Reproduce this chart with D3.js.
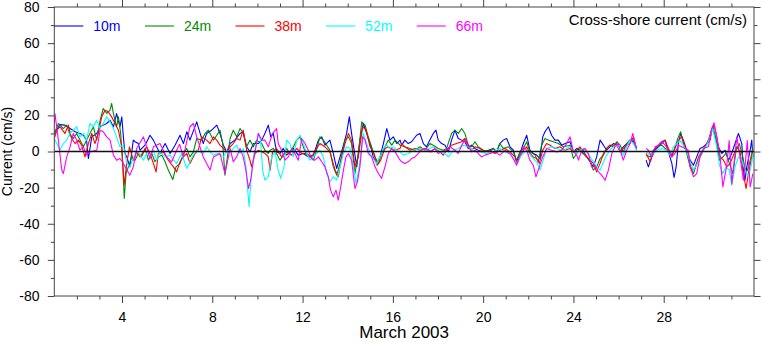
<!DOCTYPE html>
<html>
<head>
<meta charset="utf-8">
<script src="https://cdn.jsdelivr.net/npm/d3@7"></script>
<style>
  html, body { margin: 0; padding: 0; background: #fff; }
  svg { display: block; font-family: "Liberation Sans", Arial, Helvetica, sans-serif; }
</style>
</head>
<body>
<svg id="chart" width="762" height="342"></svg>
<script>
// ---------------- DATA ----------------
// time in days of March 2003 (day 1 = 1 March 00:00), value in cm/s; null = data gap
const seriesNames = ["10m", "24m", "38m", "52m", "66m"];
const seriesColors = ["#0000ff", "#008c00", "#ff0000", "#00ffff", "#ff00ff"];
const xMajorTicks = [4, 8, 12, 16, 20, 24, 28];
const yMajorTicks = [-80, -60, -40, -20, 0, 20, 40, 60, 80];
const xLabel = "March 2003";
const yLabel = "Current (cm/s)";
const title = "Cross-shore current (cm/s)";

const s10m = [[1.0,10.0],[1.25,14.9],[1.47,14.6],[1.70,12.7],[1.92,10.9],[2.14,10.0],[2.29,9.0],[2.43,6.3],[2.51,-3.9],[2.66,8.1],[2.88,10.0],[3.03,13.7],[3.17,14.6],[3.32,15.5],[3.47,17.3],[3.62,13.7],[3.76,21.0],[3.91,13.7],[3.99,19.2],[4.06,8.1],[4.13,-1.1],[4.21,-3.0],[4.35,-8.5],[4.50,6.3],[4.58,5.4],[4.72,4.4],[4.80,0.7],[5.02,3.5],[5.24,9.0],[5.39,6.3],[5.68,-1.1],[5.91,4.4],[6.13,-1.1],[6.35,3.5],[6.57,9.0],[6.72,4.4],[6.87,10.9],[7.01,6.3],[7.31,16.4],[7.46,10.0],[7.60,4.4],[7.75,10.0],[7.97,11.8],[8.20,14.6],[8.34,10.0],[8.49,3.5],[8.64,-0.2],[8.79,4.4],[9.00,6.3],[9.23,10.0],[9.37,10.9],[9.52,2.6],[9.67,-0.2],[9.82,4.4],[10.04,4.4],[10.19,6.3],[10.33,10.0],[10.48,14.6],[10.59,8.1],[10.70,10.0],[10.85,-0.2],[11.00,-1.1],[11.15,1.7],[11.29,-2.0],[11.44,-0.2],[11.59,1.7],[11.81,-2.0],[12.03,-1.1],[12.25,-3.0],[12.48,-2.0],[12.70,6.3],[12.85,8.1],[12.99,3.5],[13.21,6.3],[13.36,-1.1],[13.51,-9.4],[13.66,-3.0],[13.81,3.5],[13.95,10.0],[14.07,19.2],[14.17,10.0],[14.32,-2.0],[14.40,-8.5],[14.54,6.3],[14.69,15.5],[14.84,10.0],[14.99,4.4],[15.13,-3.0],[15.28,-6.6],[15.43,-3.0],[15.58,4.4],[15.73,12.7],[15.87,6.3],[16.02,8.1],[16.17,4.4],[16.32,6.3],[16.39,3.5],[16.53,6.3],[16.68,4.4],[16.83,5.4],[17.05,9.0],[17.20,10.0],[17.35,4.4],[17.49,2.6],[17.64,6.3],[17.79,10.0],[17.91,11.8],[18.01,6.3],[18.16,4.4],[18.31,3.5],[18.46,-0.2],[18.60,6.3],[18.75,11.8],[18.90,7.2],[19.05,6.3],[19.19,5.4],[19.34,1.7],[19.49,3.5],[19.64,1.7],[19.78,0.7],[20.01,-0.2],[20.23,0.7],[20.45,1.7],[20.60,-0.2],[20.74,4.4],[20.89,6.3],[21.04,7.2],[21.19,2.6],[21.34,0.7],[21.48,-5.7],[21.63,-1.1],[21.78,4.4],[21.93,9.0],[22.07,0.7],[22.22,-1.1],[22.37,-2.0],[22.52,-3.9],[22.64,8.1],[22.74,10.9],[22.89,13.7],[23.03,9.0],[23.18,6.3],[23.33,6.3],[23.48,3.5],[23.63,4.4],[23.85,5.4],[24.00,-0.2],[24.15,1.7],[24.29,0.7],[24.44,-1.1],[24.59,-3.0],[24.74,-5.7],[24.88,-8.5],[25.03,-3.0],[25.18,6.3],[25.33,3.5],[25.47,0.7],[25.62,2.6],[25.77,4.4],[25.92,3.5],[26.07,-0.2],[26.21,2.6],[26.36,4.4],[26.51,6.3],[26.66,5.4],[26.80,1.7],[27.0,null],[27.22,-4.8],[27.32,-8.5],[27.47,-3.0],[27.62,0.7],[27.76,2.6],[27.91,4.4],[28.06,6.3],[28.21,-0.2],[28.36,-6.6],[28.46,-14.4],[28.55,-8.5],[28.65,4.4],[28.75,10.0],[28.87,6.3],[29.02,0.7],[29.17,-4.8],[29.32,-7.6],[29.46,-3.0],[29.61,1.7],[29.76,2.6],[29.91,4.4],[30.05,6.3],[30.17,13.7],[30.28,8.1],[30.42,2.6],[30.57,-1.1],[30.72,0.7],[30.87,-4.8],[31.01,-1.1],[31.16,4.4],[31.31,10.0],[31.46,4.4],[31.53,-10.3],[31.60,-15.9],[31.68,-8.5],[31.83,0.7],[31.90,6.3],[31.95,-3.0]];

const s24m = [[1.0,10.0],[1.18,15.5],[1.40,12.7],[1.55,14.6],[1.70,9.0],[1.84,7.2],[1.99,10.0],[2.14,6.3],[2.29,2.6],[2.43,6.3],[2.58,10.0],[2.73,13.7],[2.88,6.3],[3.03,17.3],[3.17,23.8],[3.32,21.0],[3.47,22.9],[3.54,26.6],[3.62,21.0],[3.76,13.7],[3.84,19.2],[3.94,10.0],[4.03,-6.6],[4.10,-26.0],[4.18,-12.2],[4.28,-8.5],[4.43,-3.0],[4.58,-4.8],[4.72,-1.1],[4.87,-3.0],[5.02,1.7],[5.17,-4.8],[5.32,-1.1],[5.46,-5.7],[5.61,-3.0],[5.76,-2.0],[5.91,-5.7],[6.05,-10.3],[6.25,-15.5],[6.39,-8.5],[6.57,-6.6],[6.72,-1.1],[6.87,1.7],[7.01,-3.0],[7.16,-0.2],[7.31,7.2],[7.53,6.3],[7.68,10.0],[7.83,11.8],[8.05,6.3],[8.20,9.0],[8.34,11.8],[8.46,4.4],[8.56,-13.1],[8.67,-3.0],[8.79,7.2],[8.93,11.8],[9.08,8.1],[9.23,12.7],[9.37,10.0],[9.52,2.6],[9.67,6.3],[9.82,2.6],[9.96,6.3],[10.19,4.4],[10.33,0.7],[10.48,-1.1],[10.56,0.7],[10.70,1.7],[10.85,-1.1],[11.00,-4.8],[11.15,-2.0],[11.29,1.7],[11.44,-1.1],[11.59,2.6],[11.74,6.3],[11.89,8.1],[12.03,2.6],[12.18,-2.0],[12.33,-3.0],[12.48,-4.8],[12.62,0.7],[12.77,8.1],[12.92,6.3],[13.07,3.5],[13.21,0.7],[13.36,-8.5],[13.51,-13.1],[13.66,-6.6],[13.88,6.3],[14.03,8.1],[14.17,4.4],[14.32,-12.2],[14.47,-1.1],[14.62,16.4],[14.77,14.6],[14.91,8.1],[15.06,2.6],[15.21,-3.0],[15.36,-6.6],[15.50,-1.1],[15.65,2.6],[15.80,6.3],[15.95,3.5],[16.10,6.3],[16.32,3.5],[16.53,2.6],[16.76,1.7],[16.98,0.7],[17.20,2.6],[17.42,0.7],[17.64,4.4],[17.79,3.5],[18.01,1.7],[18.23,0.7],[18.38,1.7],[18.60,10.0],[18.75,11.8],[18.90,10.0],[19.05,12.7],[19.19,10.0],[19.34,3.5],[19.49,2.6],[19.64,5.4],[19.78,2.6],[20.01,0.7],[20.23,-0.2],[20.45,1.7],[20.60,-0.2],[20.74,4.4],[20.89,1.7],[21.11,2.6],[21.34,-0.2],[21.48,-4.8],[21.63,-0.2],[21.78,1.7],[21.93,5.4],[22.07,-0.2],[22.30,-2.0],[22.44,-5.7],[22.59,3.5],[22.74,7.2],[22.89,6.3],[23.11,5.4],[23.33,4.4],[23.55,2.6],[23.85,3.5],[24.00,-3.9],[24.15,-1.1],[24.29,1.7],[24.44,0.7],[24.59,-3.0],[24.74,-5.7],[24.88,-10.3],[25.03,-8.5],[25.18,-3.9],[25.33,-2.0],[25.47,1.7],[25.62,3.5],[25.77,2.6],[25.92,5.4],[26.07,3.5],[26.21,-0.2],[26.36,4.4],[26.51,6.3],[26.66,6.3],[26.80,1.7],[27.0,null],[27.22,-2.0],[27.40,-3.0],[27.54,0.7],[27.69,2.6],[27.91,3.5],[28.06,1.7],[28.21,0.7],[28.36,-3.0],[28.50,2.6],[28.65,8.1],[28.75,10.9],[28.87,4.4],[29.02,-1.1],[29.17,-8.5],[29.32,-12.2],[29.46,-6.6],[29.61,-3.0],[29.76,0.7],[29.91,4.4],[30.05,8.1],[30.17,13.7],[30.32,6.3],[30.47,-4.8],[30.62,-3.0],[30.76,-1.1],[30.91,-6.6],[31.06,-12.2],[31.21,0.7],[31.35,4.4],[31.50,-3.0],[31.65,-12.2],[31.80,-6.6],[31.95,1.7]];

const s38m = [[1.0,7.2],[1.11,11.8],[1.25,13.7],[1.47,10.0],[1.62,14.6],[1.77,7.2],[1.92,4.4],[2.07,6.3],[2.21,3.5],[2.36,-3.0],[2.51,4.4],[2.66,10.0],[2.80,4.4],[2.95,10.0],[3.10,19.2],[3.25,22.9],[3.39,22.0],[3.54,19.2],[3.69,15.5],[3.84,11.8],[3.99,2.6],[4.09,-18.6],[4.21,-6.6],[4.33,2.6],[4.50,-4.8],[4.65,-0.2],[4.80,-3.0],[4.95,-0.2],[5.09,2.6],[5.24,-1.1],[5.39,-6.6],[5.51,-11.3],[5.61,-1.1],[5.83,-0.2],[6.05,-4.8],[6.28,-8.5],[6.42,-11.3],[6.57,-5.7],[6.72,-3.0],[6.87,-1.1],[7.01,-6.6],[7.24,-1.1],[7.38,0.7],[7.53,8.1],[7.75,6.3],[7.90,4.4],[8.05,8.1],[8.20,6.3],[8.34,3.5],[8.49,1.7],[8.64,-0.2],[8.79,2.6],[8.93,4.4],[9.08,7.2],[9.23,6.3],[9.37,11.8],[9.52,0.7],[9.67,-4.8],[9.74,-8.5],[9.89,-1.1],[10.04,0.7],[10.19,-0.2],[10.33,-1.1],[10.48,-3.0],[10.56,-10.3],[10.67,-0.2],[10.85,1.7],[11.07,-3.0],[11.29,-0.2],[11.52,-2.0],[11.74,1.7],[11.96,-1.1],[12.18,-1.1],[12.40,-3.0],[12.62,1.7],[12.77,4.4],[12.99,2.6],[13.21,-0.2],[13.44,-10.3],[13.58,-14.0],[13.73,-3.0],[13.88,4.4],[14.03,10.0],[14.17,6.3],[14.32,-8.5],[14.47,-3.0],[14.66,13.7],[14.81,11.8],[14.99,2.6],[15.16,-1.1],[15.31,-7.6],[15.46,-4.8],[15.65,1.7],[15.80,2.6],[16.02,0.7],[16.32,1.7],[16.39,4.4],[16.53,2.6],[16.76,0.7],[16.98,1.7],[17.20,0.7],[17.42,1.7],[17.64,-0.2],[17.86,1.7],[18.09,-0.2],[18.23,-2.0],[18.38,0.7],[18.60,3.5],[18.82,4.4],[19.05,5.4],[19.19,7.2],[19.34,3.5],[19.49,0.7],[19.64,2.6],[19.86,1.7],[20.08,-0.2],[20.30,0.7],[20.52,-1.1],[20.74,0.7],[20.97,1.7],[21.19,-0.2],[21.41,-3.0],[21.51,-6.6],[21.63,-3.0],[21.78,0.7],[21.93,2.6],[22.07,-1.1],[22.22,-3.0],[22.37,-3.9],[22.49,-6.6],[22.64,0.7],[22.81,4.4],[22.96,3.5],[23.18,1.7],[23.40,2.6],[23.63,0.7],[23.85,1.7],[24.00,-0.2],[24.15,0.7],[24.29,2.6],[24.44,-1.1],[24.59,-3.0],[24.74,-4.8],[24.88,-6.6],[25.03,-11.3],[25.18,-6.6],[25.33,-1.1],[25.47,1.7],[25.62,3.5],[25.77,3.5],[25.92,4.4],[26.07,-0.2],[26.21,1.7],[26.36,3.5],[26.51,4.4],[26.66,8.1],[26.80,0.7],[27.0,null],[27.22,-1.1],[27.40,-5.7],[27.54,-0.2],[27.69,2.6],[27.91,5.4],[28.06,6.3],[28.21,1.7],[28.36,-2.0],[28.50,1.7],[28.65,6.3],[28.80,8.1],[28.95,2.6],[29.09,-3.0],[29.24,-10.3],[29.39,-9.4],[29.54,-3.0],[29.68,-0.2],[29.83,2.6],[29.98,6.3],[30.13,12.7],[30.23,14.6],[30.35,8.1],[30.50,-3.0],[30.65,-4.8],[30.79,-8.5],[30.94,-6.6],[31.09,-2.0],[31.24,2.6],[31.38,-0.2],[31.53,-12.2],[31.65,-20.5],[31.75,-12.2],[31.90,-3.0],[31.95,0.7]];

const s52m = [[1.0,7.2],[1.11,4.4],[1.25,0.7],[1.40,4.4],[1.55,6.3],[1.70,10.0],[1.84,11.8],[1.99,13.7],[2.14,8.1],[2.29,10.0],[2.43,6.3],[2.58,15.5],[2.73,13.7],[2.88,17.3],[3.03,12.7],[3.17,15.5],[3.32,19.2],[3.47,16.4],[3.62,12.7],[3.76,8.1],[3.91,2.6],[4.06,3.5],[4.21,-6.6],[4.35,-8.5],[4.50,-3.9],[4.65,0.7],[4.80,-2.0],[4.95,-4.8],[5.09,-1.1],[5.24,-3.0],[5.39,0.7],[5.54,-4.8],[5.68,-0.2],[5.91,-3.0],[6.13,-2.0],[6.28,-4.8],[6.42,-6.6],[6.64,-1.1],[6.87,-9.4],[7.01,-5.7],[7.16,-2.0],[7.31,0.7],[7.60,-1.1],[7.75,2.6],[7.90,-0.2],[8.05,-2.0],[8.27,-1.1],[8.49,-3.0],[8.64,0.7],[8.79,-0.2],[8.93,1.7],[9.08,3.5],[9.23,-1.1],[9.37,1.7],[9.49,-8.5],[9.57,-21.4],[9.63,-30.6],[9.70,-17.7],[9.82,-3.0],[9.96,4.4],[10.04,10.0],[10.14,6.3],[10.23,-10.3],[10.33,-15.9],[10.48,-14.0],[10.63,-3.0],[10.78,-0.2],[10.92,-10.3],[11.03,-14.9],[11.18,-8.5],[11.29,6.3],[11.44,4.4],[11.59,-3.0],[11.74,6.3],[11.89,9.0],[12.03,4.4],[12.18,-1.1],[12.33,-4.8],[12.48,-3.0],[12.62,-1.1],[12.77,0.7],[12.92,-3.0],[13.07,-12.2],[13.21,-16.8],[13.36,-14.0],[13.51,-15.9],[13.66,-8.5],[13.81,-1.1],[13.95,2.6],[14.10,1.7],[14.25,-8.5],[14.37,-17.7],[14.51,-8.5],[14.69,10.0],[14.84,4.4],[14.99,-1.1],[15.13,-3.9],[15.28,-6.6],[15.43,-3.0],[15.58,1.7],[15.73,3.5],[15.87,1.7],[16.02,2.6],[16.17,0.7],[16.32,-0.2],[16.46,-2.0],[16.68,-1.1],[16.90,0.7],[17.20,1.7],[17.49,0.7],[17.79,2.6],[18.09,-0.2],[18.31,-1.1],[18.46,-3.0],[18.68,0.7],[18.90,1.7],[19.12,3.5],[19.34,2.6],[19.56,0.7],[19.86,-0.2],[20.15,-1.1],[20.45,-0.2],[20.74,1.7],[20.97,-0.2],[21.26,-2.0],[21.48,-6.6],[21.70,-2.0],[21.93,0.7],[22.15,-3.0],[22.37,-5.7],[22.52,-10.3],[22.66,-4.8],[22.81,1.7],[23.03,2.6],[23.26,1.7],[23.55,0.7],[23.85,2.6],[24.00,0.7],[24.15,-1.1],[24.29,0.7],[24.44,1.7],[24.59,-0.2],[24.74,-3.0],[24.88,-5.7],[25.03,-8.5],[25.18,-10.3],[25.33,-5.7],[25.47,-2.0],[25.62,0.7],[25.77,2.6],[25.92,3.5],[26.07,0.7],[26.21,-2.0],[26.36,2.6],[26.51,6.3],[26.66,4.4],[26.80,0.7],[27.0,null],[27.22,-0.2],[27.40,-2.0],[27.54,-1.1],[27.69,0.7],[27.91,1.7],[28.13,0.7],[28.28,-2.0],[28.43,2.6],[28.58,4.4],[28.72,6.3],[28.87,3.5],[29.02,-0.2],[29.17,-5.7],[29.32,-10.3],[29.46,-7.6],[29.61,-3.0],[29.76,0.7],[29.91,3.5],[30.05,8.1],[30.17,12.7],[30.32,4.4],[30.47,-7.6],[30.62,-12.2],[30.76,-8.5],[30.91,-10.3],[31.01,-18.6],[31.16,-8.5],[31.31,-3.0],[31.46,-4.8],[31.60,-10.3],[31.75,-14.0],[31.90,-6.6],[31.95,-1.1]];

const s66m = [[1.0,15.5],[1.03,21.0],[1.18,6.3],[1.33,-10.3],[1.40,-12.2],[1.55,-3.0],[1.70,2.6],[1.84,10.0],[1.99,6.3],[2.14,0.7],[2.29,2.6],[2.43,-2.0],[2.58,-0.2],[2.88,0.7],[3.03,11.8],[3.17,10.9],[3.32,8.1],[3.47,6.3],[3.62,-2.0],[3.76,-4.8],[3.91,-3.9],[4.06,-6.6],[4.35,-13.1],[4.50,-8.5],[4.65,1.7],[4.95,8.1],[5.09,2.6],[5.24,-3.9],[5.39,2.6],[5.68,4.4],[5.98,-3.0],[6.20,-5.7],[6.42,0.7],[6.55,4.0],[6.72,-3.0],[7.01,13.7],[7.16,15.5],[7.31,8.1],[7.60,-3.0],[7.90,-10.3],[8.05,-3.0],[8.34,-1.1],[8.56,-12.2],[8.79,1.7],[8.93,-5.7],[9.08,-3.0],[9.23,1.7],[9.37,-3.0],[9.49,-10.3],[9.60,-20.5],[9.70,-15.9],[9.82,-4.8],[9.96,4.4],[10.04,10.0],[10.19,6.3],[10.33,6.3],[10.48,2.6],[10.67,10.0],[10.85,12.7],[10.92,4.4],[11.07,0.7],[11.22,-4.8],[11.37,-3.0],[11.52,1.7],[11.66,-1.1],[11.81,-4.8],[11.96,7.2],[12.11,4.4],[12.25,0.7],[12.40,-3.9],[12.55,-4.8],[12.70,-3.0],[12.85,-5.7],[12.99,-8.5],[13.14,-14.0],[13.24,-21.4],[13.36,-25.1],[13.48,-21.4],[13.58,-26.9],[13.69,-19.6],[13.81,-10.3],[13.92,-3.0],[14.03,-1.1],[14.17,-4.8],[14.32,-20.5],[14.43,-16.8],[14.54,-8.5],[14.66,8.1],[14.77,6.3],[14.91,-1.1],[15.06,-3.0],[15.21,-8.5],[15.36,-12.2],[15.50,-14.9],[15.65,-8.5],[15.80,-1.1],[15.95,1.7],[16.10,-0.2],[16.32,-4.8],[16.39,-5.7],[16.53,-6.6],[16.68,-5.7],[16.83,-3.9],[16.98,-3.0],[17.13,-1.1],[17.27,0.7],[17.49,1.7],[17.72,-0.2],[17.86,1.7],[18.01,-1.1],[18.16,-0.2],[18.31,0.7],[18.53,2.6],[18.75,0.7],[18.90,-1.1],[19.05,3.5],[19.19,6.3],[19.34,2.6],[19.49,-0.2],[19.64,0.7],[19.78,-1.1],[19.93,-3.0],[20.08,-2.0],[20.30,-1.1],[20.52,-0.2],[20.74,-2.0],[20.97,0.7],[21.19,-1.1],[21.37,-4.8],[21.48,-7.6],[21.63,-2.0],[21.78,2.6],[21.93,0.7],[22.07,-4.8],[22.22,-7.6],[22.34,-14.0],[22.49,-8.5],[22.64,-3.0],[22.81,1.7],[23.03,0.7],[23.26,-0.2],[23.48,0.7],[23.70,4.4],[23.85,8.1],[24.00,-0.2],[24.15,-2.0],[24.22,-4.8],[24.37,0.7],[24.51,1.7],[24.66,-1.1],[24.81,-8.5],[24.96,-7.6],[25.11,-11.3],[25.25,-13.1],[25.40,-15.9],[25.55,-10.3],[25.70,-1.1],[25.84,2.6],[25.99,4.4],[26.14,-2.0],[26.21,-4.8],[26.36,0.7],[26.51,4.4],[26.63,10.0],[26.73,4.4],[26.80,1.7],[27.0,null],[27.22,1.7],[27.32,0.7],[27.47,-3.0],[27.62,2.6],[27.76,3.5],[27.91,5.4],[28.06,3.5],[28.21,0.7],[28.36,-3.0],[28.50,-1.1],[28.65,3.5],[28.80,2.6],[28.95,1.7],[29.09,0.7],[29.17,-8.5],[29.32,-14.0],[29.46,-12.2],[29.61,-3.0],[29.76,1.7],[29.98,2.6],[30.13,12.7],[30.23,15.9],[30.35,8.1],[30.50,-3.0],[30.62,-19.6],[30.79,-8.0],[30.90,6.0],[31.02,-18.0],[31.12,-6.0],[31.24,8.1],[31.38,-3.0],[31.53,-15.9],[31.62,-6.0],[31.70,6.0],[31.83,-19.6],[31.95,-12.2]];

const allSeries = [s10m, s24m, s38m, s52m, s66m];

// ---------------- CHART ----------------
const svg = d3.select("#chart");
const plotL = 54.3, plotR = 754, plotT = 7, plotB = 296;
const x = d3.scaleLinear().domain([1, 32]).range([plotL, plotR]);
const y = d3.scaleLinear().domain([-80, 80]).range([plotB, plotT]);
const axisColor = "#444";

svg.append("defs").append("clipPath").attr("id", "plotclip")
  .append("rect").attr("x", plotL).attr("y", plotT).attr("width", plotR - plotL).attr("height", plotB - plotT);

// data lines
const line = d3.line()
  .defined(d => d[1] !== null)
  .x(d => x(d[0])).y(d => y(d[1]));

const gData = svg.append("g").attr("clip-path", "url(#plotclip)");
allSeries.forEach((s, i) => {
  gData.append("path").datum(s)
    .attr("fill", "none")
    .attr("stroke", seriesColors[i])
    .attr("stroke-width", 1.1)
    .attr("stroke-linejoin", "round")
    .attr("d", line);
});

// zero line
svg.append("line")
  .attr("x1", plotL).attr("x2", plotR)
  .attr("y1", y(0)).attr("y2", y(0))
  .attr("stroke", "#111").attr("stroke-width", 1.4);

// axes
const minorDays = d3.range(2, 32).filter(d => !xMajorTicks.includes(d));
const minorVals = d3.range(-70, 80, 20);
function styleAxis(g) {
  g.select(".domain").remove();
  g.selectAll(".tick line").attr("stroke", axisColor);
  g.selectAll("text").attr("fill", "#000").style("font-size", "14px")
    .style("font-family", '"Liberation Sans", Arial, Helvetica, sans-serif');
}
const fmt = d => String(d);

// bottom
svg.append("g").attr("transform", `translate(0,${plotB})`)
  .call(d3.axisBottom(x).tickValues(minorDays).tickSize(3.5).tickFormat(""))
  .call(styleAxis);
const gxb = svg.append("g").attr("transform", `translate(0,${plotB})`)
  .call(d3.axisBottom(x).tickValues(xMajorTicks).tickSize(7).tickFormat(fmt))
  .call(styleAxis);
gxb.selectAll("text").attr("y", 25.6).attr("dy", 0);
// top
svg.append("g").attr("transform", `translate(0,${plotT})`)
  .call(d3.axisTop(x).tickValues(minorDays).tickSize(3.5).tickFormat(""))
  .call(styleAxis);
svg.append("g").attr("transform", `translate(0,${plotT})`)
  .call(d3.axisTop(x).tickValues(xMajorTicks).tickSize(7).tickFormat(""))
  .call(styleAxis);
// left
svg.append("g").attr("transform", `translate(${plotL},0)`)
  .call(d3.axisLeft(y).tickValues(minorVals).tickSize(3.5).tickFormat(""))
  .call(styleAxis);
const gyl = svg.append("g").attr("transform", `translate(${plotL},0)`)
  .call(d3.axisLeft(y).tickValues(yMajorTicks).tickSize(6.5).tickFormat(fmt))
  .call(styleAxis);
gyl.selectAll("text").attr("x", -14.8);
// right
svg.append("g").attr("transform", `translate(${plotR},0)`)
  .call(d3.axisRight(y).tickValues(minorVals).tickSize(3.5).tickFormat(""))
  .call(styleAxis);
svg.append("g").attr("transform", `translate(${plotR},0)`)
  .call(d3.axisRight(y).tickValues(yMajorTicks).tickSize(6.5).tickFormat(""))
  .call(styleAxis);

// frame
svg.append("rect")
  .attr("x", plotL).attr("y", plotT).attr("width", plotR - plotL).attr("height", plotB - plotT)
  .attr("fill", "none").attr("stroke", axisColor).attr("stroke-width", 1);

// axis titles
svg.append("text")
  .attr("x", (plotL + plotR) / 2).attr("y", 338.2)
  .attr("text-anchor", "middle").style("font-size", "17px").attr("fill", "#000")
  .text(xLabel);
svg.append("text")
  .attr("transform", `translate(12,${(plotT + plotB) / 2}) rotate(-90)`)
  .attr("text-anchor", "middle").style("font-size", "14px").attr("fill", "#000")
  .text(yLabel);

// title
svg.append("text")
  .attr("x", 747).attr("y", 25)
  .attr("text-anchor", "end").style("font-size", "15px").attr("fill", "#000")
  .text(title);

// legend
const legendStep = 90.6;
seriesNames.forEach((name, i) => {
  const lx = plotL + i * legendStep;
  svg.append("line")
    .attr("x1", lx).attr("x2", lx + 29)
    .attr("y1", 26).attr("y2", 26)
    .attr("stroke", seriesColors[i]).attr("stroke-width", 1.1);
  svg.append("text")
    .attr("x", lx + 39).attr("y", 31)
    .style("font-size", "14px").attr("fill", seriesColors[i])
    .text(name);
});
</script>
</body>
</html>
